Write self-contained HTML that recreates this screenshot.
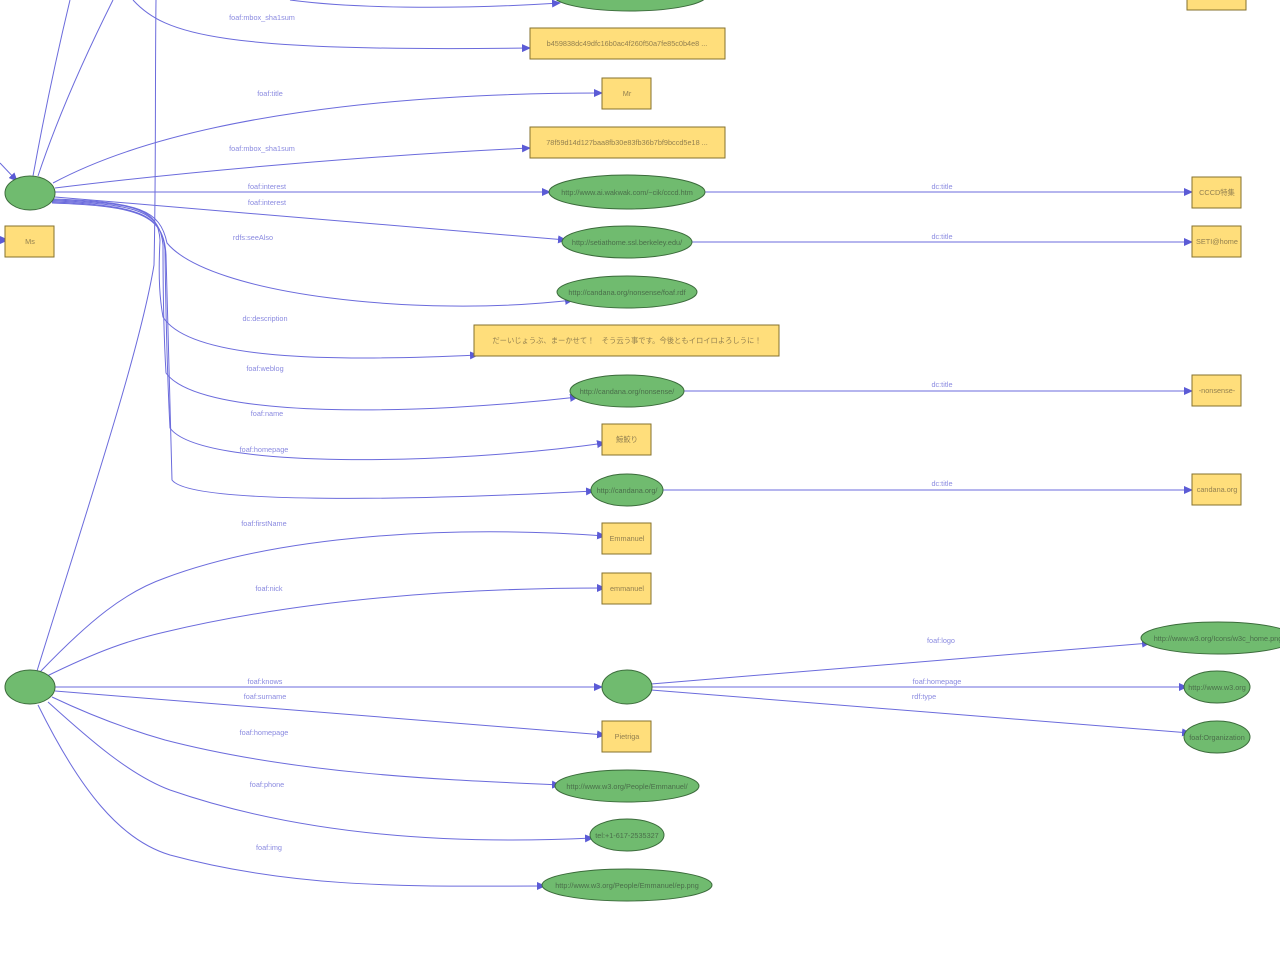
<!DOCTYPE html>
<html><head><meta charset="utf-8"><style>
html,body{margin:0;padding:0;background:#fff;width:1280px;height:960px;overflow:hidden}
svg{display:block}
.e{fill:none;stroke:#6b6bdc;stroke-width:1}
.ah{fill:#5b5bd6}
.g{fill:#70bb6f;stroke:#3b6b3b;stroke-width:1}
.y{fill:#ffde7b;stroke:#86722e;stroke-width:1}
.l{font-family:"Liberation Sans",sans-serif;font-size:7.3px;fill:#8a8ae0;text-anchor:middle}
.tg{font-family:"Liberation Sans","Noto Sans CJK JP",sans-serif;font-size:7.3px;fill:#4a6e4a;text-anchor:middle}
.ty{font-family:"Liberation Sans","Noto Sans CJK JP",sans-serif;font-size:7.3px;fill:#938050;text-anchor:middle}
</style></head><body>
<svg width="1280" height="960" viewBox="0 0 1280 960" xmlns="http://www.w3.org/2000/svg">
<defs>
<marker id="a" markerWidth="9" markerHeight="8" refX="8" refY="4" orient="auto" markerUnits="userSpaceOnUse">
<path d="M0,0 L9,4 L0,8 z" class="ah"/>
</marker>
</defs>

<!-- edges from top node A -->
<path class="e" d="M33,176 C45,110 58,50 70,0"/>
<path class="e" d="M38,176 C60,110 88,50 113,0"/>
<path class="e" d="M0,163 L17,181" marker-end="url(#a)"/>
<path class="e" d="M0,240 L8,240" marker-end="url(#a)"/>
<path class="e" d="M133,0 C165,35 220,52 530,48" marker-end="url(#a)"/>
<path class="e" d="M290,0 C350,8 450,10 560,3" marker-end="url(#a)"/>
<path class="e" d="M53,183 C180,115 400,93 602,93" marker-end="url(#a)"/>
<path class="e" d="M55,188 C200,170 380,155 530,148" marker-end="url(#a)"/>
<path class="e" d="M55,192 L550,192" marker-end="url(#a)"/>
<path class="e" d="M705,192 L1192,192" marker-end="url(#a)"/>
<path class="e" d="M55,197 L566,240" marker-end="url(#a)"/>
<path class="e" d="M692,242 L1192,242" marker-end="url(#a)"/>
<path class="e" d="M52,199 C140,202 160,210 167,243 C210,295 420,318 573,300" marker-end="url(#a)"/>
<path class="e" d="M52,200 C140,203 158,210 160,240 C158,280 160,300 163,317 C190,360 330,362 478,355" marker-end="url(#a)"/>
<path class="e" d="M52,201 C140,204 160,212 163,245 C163,300 164,340 166,373 C200,420 420,415 578,397" marker-end="url(#a)"/>
<path class="e" d="M52,202 C140,205 162,215 165,250 C166,330 168,390 170,428 C200,470 450,465 605,443" marker-end="url(#a)"/>
<path class="e" d="M52,203 C140,206 164,215 166,255 C168,350 170,430 172,480 C190,505 420,500 594,491" marker-end="url(#a)"/>
<path class="e" d="M37,671 C90,500 140,350 154,265 C156,180 155,80 156,0"/>
<path class="e" d="M663,490 L1192,490" marker-end="url(#a)"/>
<path class="e" d="M684,391 L1192,391" marker-end="url(#a)"/>

<!-- edges from bottom node B -->
<path class="e" d="M40,672 C90,620 125,592 165,578 C280,535 450,525 605,536" marker-end="url(#a)"/>
<path class="e" d="M45,677 C100,650 130,640 165,632 C300,600 450,588 605,588" marker-end="url(#a)"/>
<path class="e" d="M55,687 L602,687" marker-end="url(#a)"/>
<path class="e" d="M55,691 L605,735" marker-end="url(#a)"/>
<path class="e" d="M52,697 C90,715 130,730 165,740 C300,775 450,780 560,785" marker-end="url(#a)"/>
<path class="e" d="M48,702 C90,740 130,775 170,790 C300,835 450,845 593,838" marker-end="url(#a)"/>
<path class="e" d="M38,705 C80,790 120,840 170,855 C300,890 420,886 545,886" marker-end="url(#a)"/>
<path class="e" d="M651,684 L1150,643" marker-end="url(#a)"/>
<path class="e" d="M652,687 L1187,687" marker-end="url(#a)"/>
<path class="e" d="M651,690 L1190,733" marker-end="url(#a)"/>

<!-- edge labels -->
<text class="l" x="262" y="20">foaf:mbox_sha1sum</text>
<text class="l" x="270" y="96">foaf:title</text>
<text class="l" x="262" y="151">foaf:mbox_sha1sum</text>
<text class="l" x="267" y="189">foaf:interest</text>
<text class="l" x="267" y="205">foaf:interest</text>
<text class="l" x="253" y="240">rdfs:seeAlso</text>
<text class="l" x="265" y="321">dc:description</text>
<text class="l" x="265" y="371">foaf:weblog</text>
<text class="l" x="267" y="416">foaf:name</text>
<text class="l" x="264" y="452">foaf:homepage</text>
<text class="l" x="942" y="189">dc:title</text>
<text class="l" x="942" y="239">dc:title</text>
<text class="l" x="942" y="387">dc:title</text>
<text class="l" x="942" y="486">dc:title</text>
<text class="l" x="264" y="526">foaf:firstName</text>
<text class="l" x="269" y="591">foaf:nick</text>
<text class="l" x="265" y="684">foaf:knows</text>
<text class="l" x="265" y="699">foaf:surname</text>
<text class="l" x="264" y="735">foaf:homepage</text>
<text class="l" x="267" y="787">foaf:phone</text>
<text class="l" x="269" y="850">foaf:img</text>
<text class="l" x="941" y="643">foaf:logo</text>
<text class="l" x="937" y="684">foaf:homepage</text>
<text class="l" x="924" y="699">rdf:type</text>

<!-- nodes -->
<ellipse class="g" cx="630" cy="-5" rx="77" ry="16"/>
<rect class="y" x="1187" y="-22" width="59" height="32"/>
<ellipse class="g" cx="30" cy="193" rx="25" ry="17"/>
<rect class="y" x="5" y="226" width="49" height="31"/><text class="ty" x="30" y="244">Ms</text>

<rect class="y" x="530" y="28" width="195" height="31"/><text class="ty" x="627" y="46">b459838dc49dfc16b0ac4f260f50a7fe85c0b4e8 ...</text>
<rect class="y" x="602" y="78" width="49" height="31"/><text class="ty" x="627" y="96">Mr</text>
<rect class="y" x="530" y="127" width="195" height="31"/><text class="ty" x="627" y="145">78f59d14d127baa8fb30e83fb36b7bf9bccd5e18 ...</text>
<ellipse class="g" cx="627" cy="192" rx="78" ry="17"/><text class="tg" x="627" y="195">http://www.ai.wakwak.com/~cik/cccd.htm</text>
<ellipse class="g" cx="627" cy="242" rx="65" ry="16"/><text class="tg" x="627" y="245">http://setiathome.ssl.berkeley.edu/</text>
<ellipse class="g" cx="627" cy="292" rx="70" ry="16"/><text class="tg" x="627" y="295">http://candana.org/nonsense/foaf.rdf</text>
<rect class="y" x="474" y="325" width="305" height="31"/><text class="ty" x="627" y="343">だーいじょうぶ、まーかせて！　そう云う事です。今後ともイロイロよろしうに！</text>
<ellipse class="g" cx="627" cy="391" rx="57" ry="16"/><text class="tg" x="627" y="394">http://candana.org/nonsense/</text>
<rect class="y" x="602" y="424" width="49" height="31"/><text class="ty" x="627" y="442">鯨鮫り</text>
<ellipse class="g" cx="627" cy="490" rx="36" ry="16"/><text class="tg" x="627" y="493">http://candana.org/</text>

<rect class="y" x="1192" y="177" width="49" height="31"/><text class="ty" x="1217" y="195">CCCD特集</text>
<rect class="y" x="1192" y="226" width="49" height="31"/><text class="ty" x="1217" y="244">SETI@home</text>
<rect class="y" x="1192" y="375" width="49" height="31"/><text class="ty" x="1217" y="393">-nonsense-</text>
<rect class="y" x="1192" y="474" width="49" height="31"/><text class="ty" x="1217" y="492">candana.org</text>

<rect class="y" x="602" y="523" width="49" height="31"/><text class="ty" x="627" y="541">Emmanuel</text>
<rect class="y" x="602" y="573" width="49" height="31"/><text class="ty" x="627" y="591">emmanuel</text>
<ellipse class="g" cx="30" cy="687" rx="25" ry="17"/>
<ellipse class="g" cx="627" cy="687" rx="25" ry="17"/>
<rect class="y" x="602" y="721" width="49" height="31"/><text class="ty" x="627" y="739">Pietriga</text>
<ellipse class="g" cx="627" cy="786" rx="72" ry="16"/><text class="tg" x="627" y="789">http://www.w3.org/People/Emmanuel/</text>
<ellipse class="g" cx="627" cy="835" rx="37" ry="16"/><text class="tg" x="627" y="838">tel:+1-617-2535327</text>
<ellipse class="g" cx="627" cy="885" rx="85" ry="16"/><text class="tg" x="627" y="888">http://www.w3.org/People/Emmanuel/ep.png</text>

<ellipse class="g" cx="1218" cy="638" rx="77" ry="16"/><text class="tg" x="1218" y="641">http://www.w3.org/Icons/w3c_home.png</text>
<ellipse class="g" cx="1217" cy="687" rx="33" ry="16"/><text class="tg" x="1217" y="690">http://www.w3.org</text>
<ellipse class="g" cx="1217" cy="737" rx="33" ry="16"/><text class="tg" x="1217" y="740">foaf:Organization</text>
</svg>
</body></html>
